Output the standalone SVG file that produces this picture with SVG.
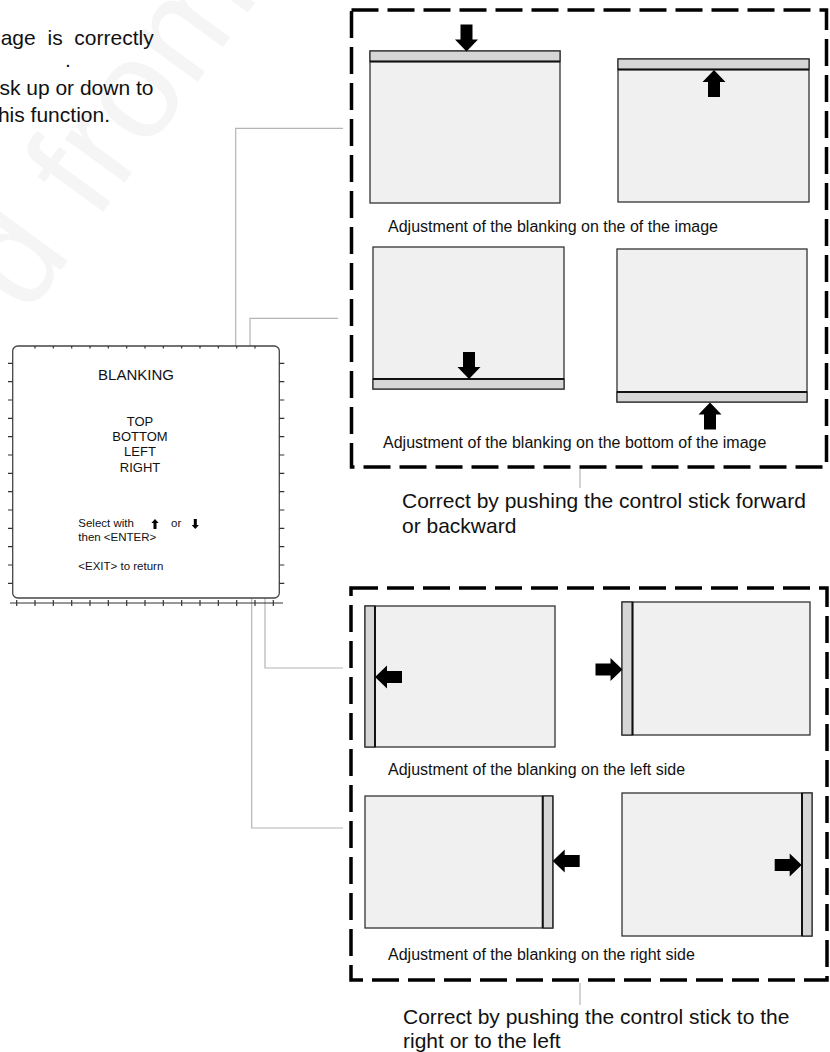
<svg xmlns="http://www.w3.org/2000/svg" width="830" height="1052" viewBox="0 0 830 1052">
<style>
text{font-family:"Liberation Sans",Arial,Helvetica,sans-serif;fill:#111}
.body{font-size:21px}
.cap{font-size:16px}
.menu{font-size:13px}
.small{font-size:11.5px}
.dash{fill:none;stroke:#000;stroke-width:3.5;stroke-dasharray:27 9}
.scr{fill:#f0f0f0;stroke:#333;stroke-width:1.3}
.band{fill:#d6d6d6;stroke:#333;stroke-width:1.3}
.sep{stroke:#111;stroke-width:2}
.conn{fill:none;stroke:#b4b4b4;stroke-width:1.2}
.tick{fill:none;stroke:#333;stroke-width:1.2}
</style>
<defs>
<path id="arr" d="M0,0 L-12,-11.5 L-12,-6 L-27,-6 L-27,6 L-12,6 L-12,11.5 Z" fill="#000"/>
<path id="sarr" d="M0,0 L-4,-3.6 L-4,-1.5 L-10,-1.5 L-10,1.5 L-4,1.5 L-4,3.6 Z" fill="#000"/>
</defs>
<rect width="830" height="1052" fill="#fff"/>
<g id="watermark">
<text x="27.4" y="316.2" transform="rotate(-54 27.4 316.2)" style="font-size:140px;fill:#f5f5f5">d from</text>
</g>
<g id="intro">
<text class="body" x="0.7" y="44.5" style="word-spacing:5.9px">age is correctly</text>
<text class="body" x="65" y="67">.</text>
<text class="body" x="153.5" y="95" text-anchor="end">sk up or down to</text>
<text class="body" x="110" y="122" text-anchor="end">his function.</text>
</g>
<g id="connectors">
<path class="conn" d="M168,419 H235.7 V128.3 H343"/>
<path class="conn" d="M182.7,435 H250 V318.3 H338"/>
<path class="conn" d="M170,450.7 H265 V668 H343"/>
<path class="conn" d="M173.3,466 H251.7 V828 H343"/>
<path class="conn" d="M580,469 V488"/>
<path class="conn" d="M580,983 V1005"/>
</g>
<g id="menu">
<rect x="12.7" y="346" width="266.6" height="252" rx="5" fill="#fff" stroke="#444" stroke-width="1.3"/>
<path class="tick" d="M8,363.3h4.7M8,381.7h4.7M8,400h4.7M8,418.3h4.7M8,436.7h4.7M8,455h4.7M8,473.3h4.7M8,491.7h4.7M8,510h4.7M8,528.3h4.7M8,546.7h4.7M8,565h4.7M8,583.3h4.7"/>
<path class="tick" d="M279.3,363.3h5M279.3,381.7h5M279.3,400h5M279.3,418.3h5M279.3,436.7h5M279.3,455h5M279.3,473.3h5M279.3,491.7h5M279.3,510h5M279.3,528.3h5M279.3,546.7h5M279.3,565h5M279.3,583.3h5"/>
<path class="tick" d="M10,603H283M16.7,600v6M35,600v6M53.3,600v6M71.7,600v6M90,600v6M108.3,600v6M126.7,600v6M145,600v6M163.3,600v6M181.7,600v6M200,600v6M218.3,600v6M236.7,600v6M255,600v6M273.3,600v6"/>
<path class="tick" d="M35,346v2.5M53.3,346v2.5M71.7,346v2.5M90,346v2.5M108.3,346v2.5M126.7,346v2.5M145,346v2.5M163.3,346v2.5M181.7,346v2.5M200,346v2.5M218.3,346v2.5M236.7,346v2.5M255,346v2.5"/>
<text x="136" y="379.5" text-anchor="middle" style="font-size:15px">BLANKING</text>
<text class="menu" x="140" y="425.5" text-anchor="middle">TOP</text>
<text class="menu" x="140" y="441" text-anchor="middle">BOTTOM</text>
<text class="menu" x="140" y="456" text-anchor="middle">LEFT</text>
<text class="menu" x="140" y="471.5" text-anchor="middle">RIGHT</text>
<text class="small" x="78.3" y="526.7">Select with</text>
<use href="#sarr" transform="translate(155,519) rotate(-90)"/>
<text class="small" x="171" y="526.7">or</text>
<use href="#sarr" transform="translate(195.3,529) rotate(90)"/>
<text class="small" x="78.3" y="540.7">then &lt;ENTER&gt;</text>
<text class="small" x="78.3" y="570">&lt;EXIT&gt; to return</text>
</g>
<g id="box-vertical">
<rect class="dash" x="351.5" y="10" width="475" height="457"/>
<g id="screen-top-1">
<rect class="scr" x="370" y="51" width="190" height="152"/>
<rect class="band" x="370" y="51" width="190" height="10.5"/>
<line class="sep" x1="370" y1="61.5" x2="560" y2="61.5"/>
<use href="#arr" transform="translate(466.5,51.5) rotate(90)"/>
</g>
<g id="screen-top-2">
<rect class="scr" x="618" y="59" width="191" height="143"/>
<rect class="band" x="618" y="59" width="191" height="10.5"/>
<line class="sep" x1="618" y1="69.5" x2="809" y2="69.5"/>
<use href="#arr" transform="translate(714,70) rotate(-90)"/>
</g>
<text class="cap" x="388" y="232">Adjustment of the blanking on the of the image</text>
<g id="screen-bottom-1">
<rect class="scr" x="373" y="247" width="191" height="142"/>
<rect class="band" x="373" y="379" width="191" height="10"/>
<line class="sep" x1="373" y1="379" x2="564" y2="379"/>
<use href="#arr" transform="translate(469,379) rotate(90)"/>
</g>
<g id="screen-bottom-2">
<rect class="scr" x="617" y="249" width="190" height="153"/>
<rect class="band" x="617" y="392" width="190" height="10"/>
<line class="sep" x1="617" y1="392" x2="807" y2="392"/>
<use href="#arr" transform="translate(710,402.5) rotate(-90)"/>
</g>
<text class="cap" x="383" y="448">Adjustment of the blanking on the bottom of the image</text>
</g>
<g id="note-vertical">
<text class="body" x="402" y="508">Correct by pushing the control stick forward</text>
<text class="body" x="402" y="533">or backward</text>
</g>
<g id="box-horizontal">
<rect class="dash" x="351" y="588" width="476" height="392"/>
<g id="screen-left-1">
<rect class="scr" x="365" y="606" width="190" height="141"/>
<rect class="band" x="365" y="606" width="10" height="141"/>
<line class="sep" x1="375" y1="606" x2="375" y2="747"/>
<use href="#arr" transform="translate(375,677) rotate(180)"/>
</g>
<g id="screen-left-2">
<rect class="scr" x="622" y="602" width="188" height="133"/>
<rect class="band" x="622" y="602" width="10.5" height="133"/>
<line class="sep" x1="632.5" y1="602" x2="632.5" y2="735"/>
<use href="#arr" transform="translate(622.5,669.5)"/>
</g>
<text class="cap" x="388" y="775">Adjustment of the blanking on the left side</text>
<g id="screen-right-1">
<rect class="scr" x="365" y="796" width="188" height="132"/>
<rect class="band" x="542.7" y="796" width="10" height="132"/>
<line class="sep" x1="542.7" y1="796" x2="542.7" y2="928"/>
<use href="#arr" transform="translate(552.7,861) rotate(180)"/>
</g>
<g id="screen-right-2">
<rect class="scr" x="622" y="793" width="190" height="143"/>
<rect class="band" x="802" y="793" width="10" height="143"/>
<line class="sep" x1="802" y1="793" x2="802" y2="936"/>
<use href="#arr" transform="translate(801.7,865)"/>
</g>
<text class="cap" x="388" y="960">Adjustment of the blanking on the right side</text>
</g>
<g id="note-horizontal">
<text class="body" x="403" y="1024">Correct by pushing the control stick to the</text>
<text class="body" x="403" y="1048">right or to the left</text>
</g>
</svg>
